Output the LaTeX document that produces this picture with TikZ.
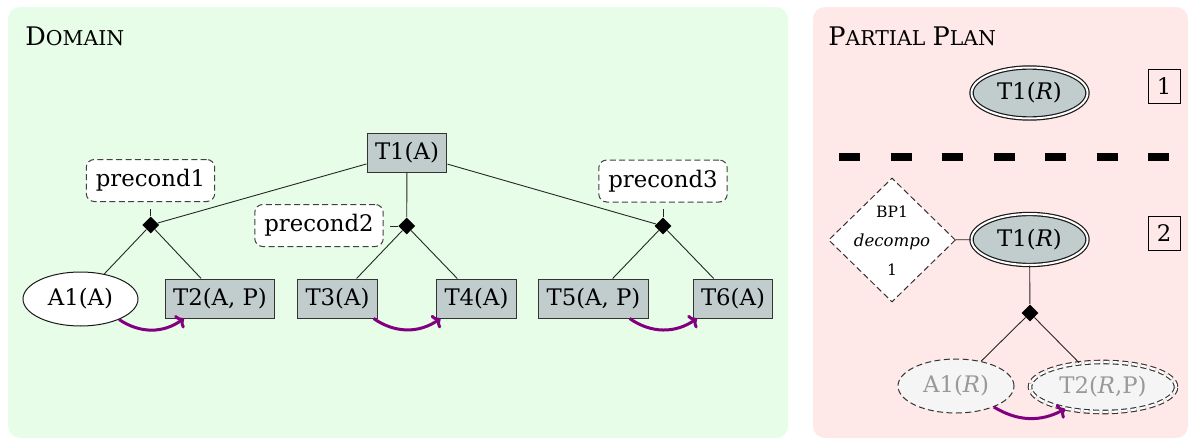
\documentclass[tikz,border=0pt]{standalone}
\usepackage{fontspec}
\setmainfont{DejaVu Serif}
\usetikzlibrary{shapes.geometric,arrows.meta,calc}
\definecolor{boxgray}{RGB}{193,205,205}
\definecolor{domgreen}{RGB}{232,253,232}
\definecolor{planpink}{RGB}{255,232,232}
\definecolor{arrpurple}{RGB}{128,0,128}
\newcommand\fakesc[2]{{\fontsize{12.8}{15}\selectfont #1}{\fontsize{10.2}{12}\selectfont #2}}
\tikzset{
  dsh/.style={dash pattern=on 3pt off 1.7pt},
  task/.style={draw=black!80, line width=0.5pt, fill=boxgray, rectangle, minimum height=19.5pt, inner xsep=4pt, inner ysep=0pt},
  prec/.style={draw=black!75, dsh, line width=0.5pt, rounded corners=4pt, fill=white, minimum height=21pt, inner xsep=4.8pt, inner ysep=0pt},
  andnode/.style={diamond, fill=black, minimum width=8.5pt, minimum height=8.5pt, inner sep=0pt},
  prim/.style={ellipse, draw=black!90, line width=0.5pt, fill=white, minimum width=57.5pt, minimum height=27pt, inner sep=0pt},
  ctask/.style={ellipse, draw=black!90, line width=0.6pt, double, double distance=1pt, fill=boxgray, minimum width=58pt, minimum height=25.5pt, inner sep=0pt},
  ghost/.style={ellipse, draw=black!80, dsh, line width=0.5pt, fill=gray!8, text=black!40, minimum width=58pt, minimum height=27pt, inner sep=0pt},
  ghostc/.style={ghost, line width=0.55pt, double, double distance=1.2pt, minimum width=73pt, minimum height=25pt},
  numbox/.style={draw, line width=0.5pt, rectangle, minimum width=16pt, minimum height=17pt, inner sep=0pt},
  conn/.style={draw=black!85, line width=0.45pt},
  order/.style={-{To[length=3.5pt,width=8pt,line width=1.5pt]}, draw=arrpurple, line width=1.5pt},
  title/.style={anchor=base west, inner sep=0pt}
}
\begin{document}
\begin{tikzpicture}[x=0.5pt,y=0.5pt,font=\fontsize{11.4}{13.5}\selectfont]
\useasboundingbox (0,0) rectangle (1190,-439);
% panels
\fill[domgreen, rounded corners=6pt] (8,-7) rectangle (788,-438);
\fill[planpink, rounded corners=6pt] (813,-7) rectangle (1188,-438);
\node[title] (domt) at (25,-46) {\fakesc{D}{OMAIN}};
\node[title] (plant) at (828,-46) {\fakesc{P}{ARTIAL} \fakesc{P}{LAN}};

% domain
\node[task] (T1) at (407,-152.5) {T1(A)};
\node[andnode] (d1) at (150.7,-225) {};
\node[andnode] (d2) at (406.7,-226) {};
\node[andnode] (d3) at (663,-226) {};
\node[prec] (p1) at (150.5,-180.5) {precond1};
\node[prec] (p2) at (319,-225.5) {precond2};
\node[prec] (p3) at (663,-181) {precond3};
\coordinate (t1) at (150.7,-209);
\coordinate (t2) at (390,-226);
\coordinate (t3) at (663,-209);
\node[prim] (A1) at (80.5,-299) {A1(A)};
\node[task] (T2) at (220,-298.5) {T2(A, P)};
\node[task] (T3) at (337.5,-298.5) {T3(A)};
\node[task] (T4) at (476.5,-298.5) {T4(A)};
\node[task] (T5) at (593.5,-298.5) {T5(A, P)};
\node[task] (T6) at (733,-298.5) {T6(A)};

\draw[conn] (T1) -- (d1);
\draw[conn] (T1) -- (d2);
\draw[conn] (T1) -- (d3);
\draw[conn] (d1) -- (t1);
\draw[conn] (d2) -- (t2);
\draw[conn] (d3) -- (t3);
\draw[conn] (d1) -- (A1);
\draw[conn] (d1) -- (T2);
\draw[conn] (d2) -- (T3);
\draw[conn] (d2) -- (T4);
\draw[conn] (d3) -- (T5);
\draw[conn] (d3) -- (T6);
\draw[order] (A1.-28) to[bend right=35] (T2.-151);
\draw[order] (T3.-29.5) to[bend right=35] (T4.-151);
\draw[order] (T5.-29.5) to[bend right=35] (T6.-151.5);

% partial plan
\node[ctask] (R1) at (1029.5,-93) {T1(\textit{R})};
\node[numbox] (n1) at (1164,-86) {1};
\draw[line width=4pt, dash pattern=on 10.5pt off 15.25pt] (839,-157) -- (1170,-157);
\node[diamond, draw=black!80, dsh, line width=0.5pt, fill=white, minimum width=63.5pt, minimum height=62pt, inner sep=0pt] (bp) at (892,-240) {};
\node[font=\fontsize{7.8}{9}\selectfont, inner sep=0pt] (bpa) at (892,-212) {BP1};
\node[font=\fontsize{8.3}{10}\selectfont\itshape, inner sep=0pt] (bpb) at (892,-242) {decompo};
\node[font=\fontsize{7.8}{9}\selectfont, inner sep=0pt] (bpc) at (892,-270) {1};
\node[ctask] (R2) at (1029.5,-239.5) {T1(\textit{R})};
\node[numbox] (n2) at (1164,-233) {2};
\node[andnode] (d4) at (1030,-313) {};
\node[ghost] (GA) at (956,-386) {A1(\textit{R})};
\node[ghostc] (GT) at (1103,-387) {T2(\textit{R},P)};
\draw[conn] (bp) -- (R2);
\draw[conn] (R2) -- (d4);
\draw[conn] (d4) -- (GA);
\draw[conn] (d4) -- (GT);
\draw[order] (GA.-29.6) to[bend right=30] (GT.-150);
\end{tikzpicture}
\end{document}
